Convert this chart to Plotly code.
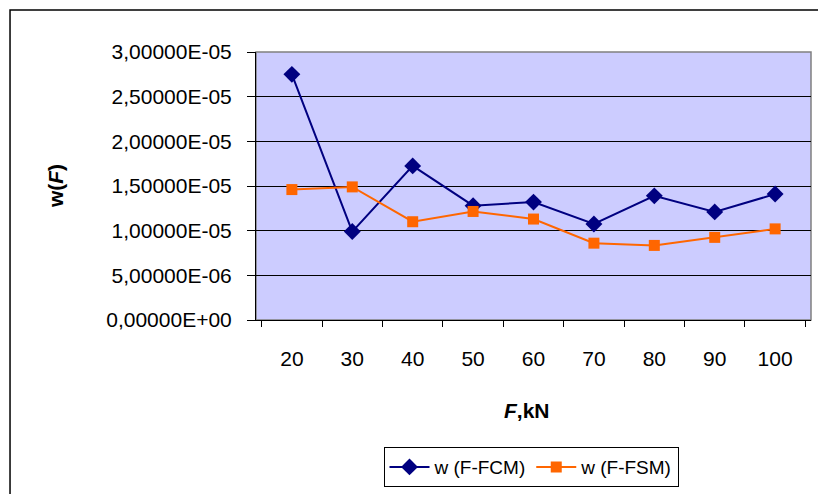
import plotly.graph_objects as go

# load levels, kN
forces = ["20", "30", "40", "50", "60", "70", "80", "90", "100"]

w_fcm = [2.75e-5, 0.99e-5, 1.725e-5, 1.28e-5, 1.32e-5, 1.075e-5, 1.39e-5, 1.21e-5, 1.41e-5]
w_fsm = [1.46e-5, 1.49e-5, 1.10e-5, 1.215e-5, 1.13e-5, 0.86e-5, 0.835e-5, 0.925e-5, 1.02e-5]

y_ticks = [0, 5e-6, 1e-5, 1.5e-5, 2e-5, 2.5e-5, 3e-5]
y_labels = ["0,00000E+00", "5,00000E-06", "1,00000E-05", "1,50000E-05",
            "2,00000E-05", "2,50000E-05", "3,00000E-05"]

FONT = "Liberation Sans, Arial, sans-serif"

fig = go.Figure()
fig.add_trace(go.Scatter(
    x=forces, y=w_fcm, name="w (F-FCM)", mode="lines+markers",
    line=dict(color="#000080", width=2),
    marker=dict(symbol="diamond", size=13, color="#000080"),
))
fig.add_trace(go.Scatter(
    x=forces, y=w_fsm, name="w (F-FSM)", mode="lines+markers",
    line=dict(color="#FF6600", width=2),
    marker=dict(symbol="square", size=11, color="#FF6600"),
))

# plot area border (grey) and outer chart frame (right/bottom edges fall off the page)
fig.add_shape(type="rect", xref="paper", yref="paper", x0=0, x1=1, y0=0, y1=1,
              line=dict(color="#808080", width=1.5), layer="below")
fig.add_shape(type="rect", xref="paper", yref="paper",
              x0=-0.4432, x1=1.04, y0=-0.67, y1=1.1567,
              line=dict(color="black", width=1.5))

# axis titles placed by hand, Excel style
fig.add_annotation(text="<b>w(<i>F</i>)</b>", xref="paper", yref="paper",
                   x=-0.362, y=0.5, textangle=-90, showarrow=False,
                   xanchor="center", yanchor="middle", font=dict(size=21))
fig.add_annotation(text="<b><i>F</i>,kN</b>", xref="paper", yref="paper",
                   x=0.488, y=-0.336, showarrow=False,
                   xanchor="center", yanchor="middle", font=dict(size=21))

fig.update_layout(
    width=818, height=494,
    margin=dict(l=256, r=7, t=52, b=174),
    paper_bgcolor="white",
    plot_bgcolor="#CCCCFF",
    font=dict(family=FONT, color="black", size=21),
    showlegend=True,
    legend=dict(
        orientation="h", x=0.4955, xanchor="center", y=-0.474, yanchor="top",
        bordercolor="black", borderwidth=1, bgcolor="white",
        font=dict(size=19), itemwidth=40,
    ),
)

fig.update_xaxes(
    type="category", tickson="boundaries", ticks="outside", ticklen=6,
    tickcolor="black", showline=True, linecolor="black", linewidth=1,
    showgrid=False, ticklabelstandoff=20,
)
fig.update_yaxes(
    range=[0, 3e-5], tickvals=y_ticks, ticktext=y_labels,
    ticks="outside", ticklen=8, tickcolor="black",
    showline=True, linecolor="black", linewidth=1,
    showgrid=True, gridcolor="black", gridwidth=1, zeroline=False,
    ticklabelstandoff=11,
)

fig.write_html("out.html", config={"displayModeBar": False},
               post_script="document.body.style.margin='0';")
